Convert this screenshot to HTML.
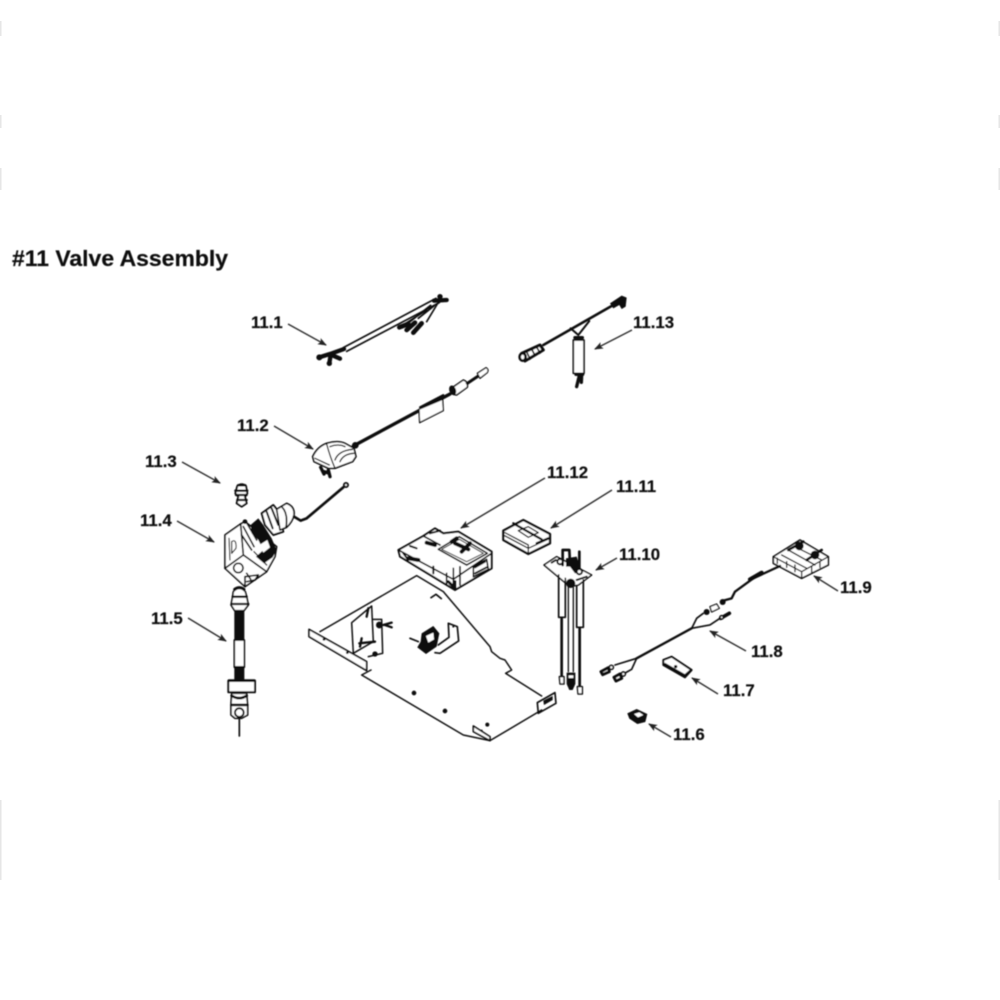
<!DOCTYPE html>
<html>
<head>
<meta charset="utf-8">
<style>
html,body{margin:0;padding:0;background:#fff;width:1000px;height:1000px;overflow:hidden}
svg{display:block}
text{font-family:"Liberation Sans",sans-serif;font-weight:700;fill:#111;stroke:#111;stroke-width:.2px;font-size:16.8px}
.d{fill:none;stroke:#111;stroke-linejoin:round;stroke-linecap:round}
.w{fill:#fff}
.k{fill:#0a0a0a}
</style>
</head>
<body>
<svg width="1000" height="1000" viewBox="0 0 1000 1000" xmlns="http://www.w3.org/2000/svg">
<defs>
<filter id="b" x="-5%" y="-5%" width="110%" height="110%"><feGaussianBlur stdDeviation="0.4"/></filter>
<marker id="a" markerWidth="9" markerHeight="8" refX="8" refY="4" orient="auto" markerUnits="userSpaceOnUse"><path d="M0,0.5L9,4L0,7.5L2,4Z" fill="#222"/></marker>
</defs>
<rect width="1000" height="1000" fill="#fff"/>

<g fill="#e6e6e6">
<rect x="0" y="21" width="1.5" height="15"/><rect x="0" y="115" width="1.5" height="13"/><rect x="0" y="168" width="1.5" height="22"/><rect x="0" y="800" width="1.5" height="80"/>
<rect x="998.5" y="21" width="1.5" height="15"/><rect x="998.5" y="115" width="1.5" height="13"/><rect x="998.5" y="168" width="1.5" height="22"/><rect x="998.5" y="800" width="1.5" height="80"/>
</g>

<g filter="url(#b)">
<text x="12" y="266" style="font-size:22px" textLength="216" lengthAdjust="spacingAndGlyphs">#11 Valve Assembly</text>
<text x="251" y="328">11.1</text>
<text x="633" y="328">11.13</text>
<text x="237" y="431">11.2</text>
<text x="145" y="467">11.3</text>
<text x="140" y="526">11.4</text>
<text x="151" y="624">11.5</text>
<text x="547" y="478">11.12</text>
<text x="616" y="492">11.11</text>
<text x="619" y="560">11.10</text>
<text x="840" y="593">11.9</text>
<text x="751" y="657">11.8</text>
<text x="723" y="696">11.7</text>
<text x="673" y="740">11.6</text>

<g stroke="#333" stroke-width="1.5" fill="none">
<path d="M288,324L326,345" marker-end="url(#a)"/>
<path d="M632,330L595,349" marker-end="url(#a)"/>
<path d="M274,426L313,449" marker-end="url(#a)"/>
<path d="M182,462L220,483" marker-end="url(#a)"/>
<path d="M177,521L214,542" marker-end="url(#a)"/>
<path d="M188,618L226,641" marker-end="url(#a)"/>
<path d="M545,478L461,528" marker-end="url(#a)"/>
<path d="M612,490L551,528" marker-end="url(#a)"/>
<path d="M617,558L596,570" marker-end="url(#a)"/>
<path d="M838,591L814,576" marker-end="url(#a)"/>
<path d="M746,651L710,631" marker-end="url(#a)"/>
<path d="M718,694L692,678" marker-end="url(#a)"/>
<path d="M671,737L649,724" marker-end="url(#a)"/>
</g>

<!-- 11.1 and 11.2 -->
<g transform="translate(230,280) scale(.3333)">
<path class="d" stroke-width="5" d="M340,203L618,55M350,214L628,68"/>
<path class="d" stroke-width="13" d="M268,232L300,222L342,207M302,225L298,250M305,225L330,236"/>
<path class="d" stroke-width="13" d="M612,62L650,60"/>
<circle class="k" cx="630" cy="50" r="8"/>
<path class="d" stroke-width="5" d="M612,78L565,115M602,76L540,125M622,72L590,125M590,90L520,135"/>
<path class="d" stroke-width="14" d="M508,142L535,132M530,150L555,128M550,158L575,130"/>
<circle class="k" cx="298" cy="250" r="8"/><circle class="k" cx="268" cy="232" r="9"/>

<path class="d" stroke-width="10" d="M370,498L660,342"/>
<path class="d" stroke-width="6" d="M570,382L640,345"/>
<path class="d w" stroke-width="4" d="M567,388L638,358L640,392L569,428Z"/>
<path class="d w" stroke-width="4.5" d="M668,322L700,300Q715,305 712,322L680,345Q660,345 668,322Z"/>
<ellipse class="k" cx="668" cy="331" rx="10" ry="15" transform="rotate(-20 668 331)"/>
<path class="d" stroke-width="9" d="M712,310L745,288"/>
<path class="d w" stroke-width="4" d="M742,280L768,263Q778,268 772,278L750,295Z"/>
<path class="d w" stroke-width="5" d="M248,530Q262,500 290,490Q325,480 345,490L372,505L378,530L368,545L315,565L295,565L252,545Z"/>
<path class="d" stroke-width="4" d="M290,492Q300,530 315,565M300,500Q325,490 345,500M315,540Q325,512 368,508M330,545Q340,522 372,520M255,535L298,555"/>
<path class="d" stroke-width="10" d="M272,562L282,582M295,570L300,590M282,575L292,578"/>
<circle class="k" cx="376" cy="496" r="10"/>
</g>

<!-- 11.3, 11.4, 11.5 -->
<g transform="translate(130,450) scale(.3333)">
<path class="d w" stroke-width="6" d="M322,108Q335,98 348,108L352,130L345,140L350,160L335,170L320,160L325,140L316,130Z"/>
<path class="d" stroke-width="7" d="M316,122L352,122M318,135L350,135M322,150L350,150M324,106L346,106"/>
<!-- block -->
<path class="d w" stroke-width="5" d="M285,255L332,222L345,215L440,290L435,320L410,365L345,410L285,355Z"/>
<path class="d" stroke-width="5" d="M285,355L340,315L410,365M340,315L332,222M345,410L345,380"/>
<path class="d" stroke-width="3.5" d="M297,265L300,330M305,275Q320,265 318,295L305,310Z"/>
<circle class="d w" stroke-width="5" cx="325" cy="354" r="14"/>
<path class="d" stroke-width="5" d="M345,380L385,375L375,390L350,395M350,370L362,388"/>
<path class="d" stroke-width="5" d="M340,230L372,290M352,222L380,270M335,255L365,300"/>
<!-- stacked coils -->
<path class="k" d="M362,225L385,205L400,225L425,265L440,300L428,322L402,340L378,320L400,300L385,270L365,250Z"/>
<path class="w" d="M388,285L412,270L420,292L400,308Z"/>
<path class="d" stroke-width="4" d="M372,305L410,345"/>
<path class="d w" stroke-width="6" d="M395,190L430,165L442,180L460,245L430,255L405,225Z"/>
<path class="d" stroke-width="6" d="M410,185L428,235M425,175L445,225"/>
<path class="d w" stroke-width="5" d="M440,178L470,160Q495,170 492,195Q488,215 470,232L450,240Z"/>
<path class="d" stroke-width="5" d="M455,170Q475,190 468,232"/>
<path class="d" stroke-width="8" d="M492,200L512,212L530,205L640,112"/>
<circle class="d w" stroke-width="6" cx="648" cy="105" r="6"/>
<circle class="k" cx="345" cy="215" r="7"/>
<!-- hose -->
<path class="d w" stroke-width="5" d="M310,425Q328,405 346,425L350,440L355,465L342,482L314,482L303,465L308,440Z"/>
<path class="d" stroke-width="9" d="M314,418Q328,408 342,418"/>
<path class="d" stroke-width="7" d="M308,440L350,440M305,462L355,462"/>
<rect class="k" x="313" y="480" width="30" height="92"/>
<rect class="d w" stroke-width="5" x="313" y="570" width="30" height="82"/>
<rect class="k" x="313" y="648" width="30" height="44"/>
<rect class="d w" stroke-width="6" x="295" y="692" width="80" height="35"/>
<path class="d" stroke-width="8" d="M297,692L373,692"/>
<path class="d w" stroke-width="5" d="M305,730L350,730L353,770L353,795L335,805L315,805L303,795L303,765Z"/>
<path class="d" stroke-width="8" d="M305,737Q328,752 350,737M305,765L352,765"/>
<circle class="d w" stroke-width="6" cx="328" cy="788" r="13"/>
<path class="d" stroke-width="5" d="M328,805L328,858"/>
</g>

<!-- plate -->
<g transform="translate(300,510) scale(.3333)">
<path class="d" stroke-width="4.5" d="M60,365L350,197L430,245L570,410L575,425L600,445L615,450L635,480L617,490L725,558"/>
<path class="d" stroke-width="5" d="M712,578L765,548L768,580L715,610L712,578"/>
<path class="k" d="M730,572L758,558L758,570L732,585Z"/>
<path class="d" stroke-width="4.5" d="M725,600L570,692L490,675L185,495L213,480"/>
<path class="d w" stroke-width="5" d="M27,358L200,455L200,482L27,380Z"/>
<path class="d w" stroke-width="5" d="M520,648L570,680L570,692L520,665Z"/>
<circle class="k" cx="342" cy="549" r="7"/><circle class="k" cx="435" cy="603" r="7"/><circle class="k" cx="562" cy="644" r="6"/><circle class="k" cx="545" cy="662" r="3"/>
<circle class="k" cx="72" cy="388" r="4"/><circle class="k" cx="142" cy="428" r="4"/>
<path class="d" stroke-width="5" d="M393,263L408,253L424,266"/>
<path class="d" stroke-width="4.5" d="M155,338L215,288L220,395L160,430ZM220,328L245,328L248,430L205,440"/>
<path class="d" stroke-width="7" d="M178,400L225,395M185,385L180,410M205,295L200,320M250,345L275,338M255,345L275,352"/>
<circle class="k" cx="238" cy="345" r="10"/><circle class="k" cx="225" cy="432" r="8"/>
<path class="d" stroke-width="5" d="M445,340L472,350L476,393L420,430L405,428M445,340L447,382L415,405"/>
<circle class="k" cx="460" cy="350" r="3"/>
<path class="k" d="M365,370L400,348L418,370L410,410L378,432L352,412L362,395Z"/>
<path class="w" d="M378,378L400,368L402,388L385,398Z"/>
<path class="d" stroke-width="5" d="M330,385L355,395"/>
</g>

<!-- 11.12 and 11.11 -->
<g transform="translate(390,510) scale(.3333)">
<path class="d w" stroke-width="6" d="M25,120L100,78L135,55L160,70L205,65L305,125L305,175L195,240L30,140Z"/>
<path class="d" stroke-width="5" d="M145,118L208,80L292,130L230,165ZM25,120L190,208L195,240M190,208L305,130M100,78L150,105M170,190L170,225M190,175L190,235M210,170L210,225M250,170L290,148L295,178L250,200Z"/>
<path class="d" stroke-width="3" d="M155,118L208,88L280,130L230,155Z"/>
<path class="d" stroke-width="12" d="M195,100L235,118M240,100L215,125M110,98L135,105M55,145L85,150M185,95L200,85"/>
<path class="d" stroke-width="6" d="M120,70L150,62M60,108L80,115M130,170L130,190M255,172L285,155M255,190L290,172M40,130L55,150"/>
<path class="d" stroke-width="9" d="M195,215L195,235L175,215"/>
<path class="d w" stroke-width="7" d="M340,62L400,30L480,72L480,100L415,132L340,90Z"/>
<path class="d" stroke-width="4" d="M340,75L415,115L480,85M415,105L415,130M345,68L415,105"/>
<path class="d" stroke-width="4" d="M385,62L415,50L445,68L415,82Z"/>
<path class="d" stroke-width="7" d="M370,40L455,88M440,100L475,85"/>
</g>

<!-- 11.10, 11.9, 11.8, 11.7, 11.6 -->
<g transform="translate(540,530) scale(.3333)">
<path class="d w" stroke-width="4.5" d="M12,105L50,80L155,135L115,165L90,170Z"/>
<path class="d" stroke-width="5" d="M56,135L56,262L76,262L76,145M110,168L110,292L130,292L130,150"/>
<path class="d" stroke-width="8" d="M65,265L65,440M119,295L119,470"/>
<path class="d" stroke-width="4" d="M85,172L85,425M100,172L100,425"/>
<path class="k" d="M78,85L110,80L125,125L105,130L90,110L78,110Z"/>
<path class="d" stroke-width="8" d="M68,105L68,60L88,60L90,100M118,65L118,120"/>
<circle class="d w" stroke-width="6" cx="60" cy="95" r="8"/>
<circle class="d w" stroke-width="6" cx="118" cy="125" r="8"/>
<circle class="k" cx="92" cy="160" r="14"/>
<path class="d" stroke-width="6" d="M110,150L140,140M48,90L35,98"/>
<path class="d w" stroke-width="4.5" d="M58,440L72,440L72,462L60,462Z"/>
<path class="d w" stroke-width="4.5" d="M112,470L127,470L127,492L114,492Z"/>
<path class="k" d="M80,428L106,428L106,462L98,480L88,480L80,462Z"/>
<path class="w" d="M86,436L100,436L100,444L86,444Z"/>
<!-- 11.9 -->
<path class="d w" stroke-width="5" d="M700,80L780,30L865,80L865,105L785,145L700,100Z"/>
<path class="d" stroke-width="4" d="M700,80L785,125L865,80M785,125L785,145M725,75L800,115M745,60L825,105M765,50L845,90M712,85L712,100M740,95L740,112M765,105L765,125M815,110L815,128M840,95L840,112"/>
<path class="d" stroke-width="8" d="M745,60L790,35M800,90L845,60"/>
<circle class="k" cx="778" cy="48" r="13"/><circle class="k" cx="825" cy="75" r="13"/>
<!-- 11.8 -->
<path class="d" stroke-width="7" d="M720,108L640,145L585,185L575,205L550,212M290,385L455,295"/>
<path class="d" stroke-width="12" d="M630,148L665,128"/>
<path class="d w" stroke-width="4" d="M510,230L530,222L538,235L515,246Z"/>
<circle class="k" cx="548" cy="216" r="9"/><circle class="k" cx="500" cy="246" r="9"/>
<path class="d" stroke-width="5" d="M490,250L470,265L455,295L510,285L540,265"/>
<path class="d" stroke-width="11" d="M542,265L568,250"/>
<circle class="d w" stroke-width="5" cx="545" cy="262" r="5"/>
<path class="d" stroke-width="5" d="M290,385L225,405M290,385L275,418L250,432"/>
<path class="d w" stroke-width="9" d="M183,425L205,413L208,425L188,434Z"/>
<circle class="d w" stroke-width="5" cx="214" cy="412" r="6"/>
<path class="d w" stroke-width="9" d="M222,442L240,432L245,445L228,453Z"/>
<circle class="d w" stroke-width="5" cx="250" cy="432" r="6"/>
<!-- 11.7 -->
<path class="d w" stroke-width="6" d="M370,390L395,380L455,420L435,442L370,405Z"/>
<path class="d" stroke-width="8" d="M375,403L435,437L452,422"/>
<circle class="k" cx="407" cy="410" r="5"/>
<!-- 11.6 -->
<path class="k" d="M262,550L290,537L322,552L316,576L292,582L268,566Z"/>
<path class="w" d="M282,552L298,547L310,555L294,562Z"/>
</g>

<!-- 11.13 -->
<g transform="translate(510,285) scale(.3333)">
<path class="d" stroke-width="8" d="M100,180L310,60"/>
<path class="d" stroke-width="6" d="M182,130L205,150L238,108"/>
<path class="d w" stroke-width="9" d="M35,205L90,180L100,195L45,228Z"/>
<path class="d" stroke-width="5" d="M50,200L60,222M65,192L75,212M80,186L90,204"/>
<ellipse class="d w" stroke-width="8" cx="38" cy="216" rx="9" ry="11"/>
<path class="k" d="M300,55L335,32L350,38L347,65L335,72L328,60L310,70Z"/>
<rect class="d w" stroke-width="5" x="190" y="165" width="32" height="100"/>
<path class="d" stroke-width="10" d="M195,158L217,158M198,268L218,268M208,272L200,305M215,272L214,292"/>
</g>
</g>
</svg>
</body>
</html>
